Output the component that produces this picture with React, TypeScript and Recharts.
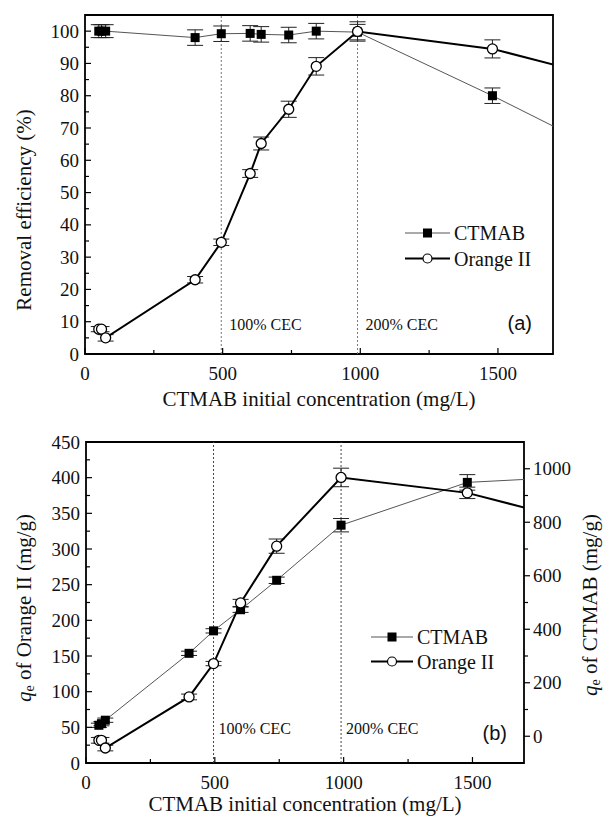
import React from 'react';
import { LineChart, Line, XAxis, YAxis, ReferenceLine, ReferenceArea, ErrorBar, Legend } from 'recharts';

const FONT = "'Liberation Serif', 'DejaVu Serif', 'Times New Roman', serif";
const SANS = "'Liberation Sans', Arial, sans-serif";

// ---------- Panel (a): removal efficiency ----------
const concA = [50, 60, 75, 400, 495, 600, 640, 740, 840, 990, 1480, 1960];
const removalCTMAB = [100, 100, 100, 98.0, 99.2, 99.3, 99.0, 98.8, 100, 99.7, 80.0, 59.5];
const removalCTMABErr = [2, 2, 2, 2.4, 2.4, 2.4, 2.4, 2.4, 2.4, 2.4, 2.4, 0];
const removalOrange = [7.7, 7.7, 5.0, 23.0, 34.6, 55.9, 65.2, 75.8, 89.1, 99.9, 94.5, 84.0];
const removalOrangeErr = [0.8, 0.8, 1, 1, 1, 1.2, 2, 2.5, 2.7, 3, 2.8, 0];

// ---------- Panel (b): adsorption capacity ----------
const concB = [50, 60, 75, 400, 495, 600, 740, 990, 1480, 1960];
const qeCTMAB = [41, 47, 60, 310, 394, 473, 583, 789, 949, 973];
const qeCTMABErr = [8, 8, 8, 8, 8, 10, 12, 25, 29, 0];
const qeOrange = [31.8, 31.8, 21, 92.6, 139.4, 224.4, 304, 400.3, 378.7, 334];
const qeOrangeErr = [4, 4, 4, 4, 3, 5, 10, 13, 8, 0];

// ---------- Axes ----------
const xDomain = [0, 1700];
const xTicks = [0, 250, 500, 750, 1000, 1250, 1500];
const yTicksA = [0, 5, 10, 15, 20, 25, 30, 35, 40, 45, 50, 55, 60, 65, 70, 75, 80, 85, 90, 95, 100];
const yTicksBLeft = [0, 25, 50, 75, 100, 125, 150, 175, 200, 225, 250, 275, 300, 325, 350, 375, 400, 425, 450];
const yTicksBRight = [0, 100, 200, 300, 400, 500, 600, 700, 800, 900, 1000];
const cecValues = [495, 990];
const cecLabels = ['100% CEC', '200% CEC'];
const seriesNames = ['CTMAB', 'Orange II'];

const dataA_CTMAB = concA.map((x, i) => ({ x, y: removalCTMAB[i], err: removalCTMABErr[i] }));
const dataA_Orange = concA.map((x, i) => ({ x, y: removalOrange[i], err: removalOrangeErr[i] }));
const dataB_CTMAB = concB.map((x, i) => ({ x, y: qeCTMAB[i], err: qeCTMABErr[i] }));
const dataB_Orange = concB.map((x, i) => ({ x, y: qeOrange[i], err: qeOrangeErr[i] }));

const serif = { fontFamily: FONT };
const sans = { fontFamily: SANS };
const TICK_FS = 19;
const TITLE_FS = 21;

const XTick = (props: any) => {
  const { x, y, payload } = props;
  const major = payload.value % 500 === 0;
  return (
    <g>
      <line x1={x} x2={x} y1={y} y2={y - (major ? 6 : 4)} stroke="#000" strokeWidth={1.2} />
      {major && (
        <text x={x} y={y + 19} textAnchor="middle" dominantBaseline="central" style={serif} fontSize={TICK_FS} fill="#111">
          {payload.value}
        </text>
      )}
    </g>
  );
};

const makeLeftTick = (step: number) => (props: any) => {
  const { x, y, payload } = props;
  const major = payload.value % step === 0;
  return (
    <g>
      <line x1={x} x2={x + (major ? 6 : 4)} y1={y} y2={y} stroke="#000" strokeWidth={1.2} />
      {major && (
        <text x={x - 6} y={y} textAnchor="end" dominantBaseline="central" style={serif} fontSize={TICK_FS} fill="#111">
          {payload.value}
        </text>
      )}
    </g>
  );
};

const RightTick = (props: any) => {
  const { x, y, payload } = props;
  const major = payload.value % 200 === 0;
  return (
    <g>
      <line x1={x} x2={x + (major ? 6 : 4)} y1={y} y2={y} stroke="#000" strokeWidth={1.2} />
      {major && (
        <text x={x + 9} y={y} textAnchor="start" dominantBaseline="central" style={serif} fontSize={TICK_FS} fill="#111">
          {payload.value}
        </text>
      )}
    </g>
  );
};

const SquareDot = (p: any) =>
  p.cx == null ? null : <rect key={`s${p.index}`} x={p.cx - 4.5} y={p.cy - 4.5} width={9} height={9} fill="#000" />;
const CircleDot = (p: any) =>
  p.cx == null ? null : <circle key={`c${p.index}`} cx={p.cx} cy={p.cy} r={5} fill="#fff" stroke="#000" strokeWidth={1.3} />;

const makeLegend = (rowGap: number, lineW: number) => () => (
  <svg width={190} height={60} style={{ overflow: 'visible' }}>
    {seriesNames.map((name, i) => {
      const cy = 12 + i * rowGap;
      const mid = lineW / 2;
      return (
        <g key={name}>
          <line x1={0} x2={lineW} y1={cy} y2={cy} stroke={i === 0 ? '#555' : '#000'} strokeWidth={i === 0 ? 1 : 2} />
          {i === 0 ? (
            <rect x={mid - 4.5} y={cy - 4.5} width={9} height={9} fill="#000" />
          ) : (
            <circle cx={mid} cy={cy} r={4.5} fill="#fff" stroke="#000" strokeWidth={1.2} />
          )}
          <text x={lineW + 4} y={cy} dominantBaseline="central" style={serif} fontSize={20} fill="#111">
            {name}
          </text>
        </g>
      );
    })}
  </svg>
);

const cecLabel = (text: string, dx: number, dyFromBottom: number) => (props: any) => {
  const vb = props.viewBox || {};
  return (
    <text x={vb.x + dx} y={vb.y + vb.height - dyFromBottom} dominantBaseline="central" style={serif} fontSize={16} fill="#111">
      {text}
    </text>
  );
};

const panelLabel = (text: string, dxRight: number, dyBottom: number) => (props: any) => {
  const vb = props.viewBox || {};
  return (
    <text x={vb.x + vb.width - dxRight} y={vb.y + vb.height - dyBottom} textAnchor="end" dominantBaseline="central" style={sans} fontSize={20} fill="#111">
      {text}
    </text>
  );
};

const makeXTitle = (offset: number) => (props: any) => {
  const vb = props.viewBox || {};
  return (
    <text x={vb.x + vb.width / 2} y={vb.y + offset} textAnchor="middle" dominantBaseline="central" style={serif} fontSize={TITLE_FS} fill="#111">
      CTMAB initial concentration (mg/L)
    </text>
  );
};

const yTitleA = () => (
  <text x={24} y={210} transform="rotate(-90 24 210)" textAnchor="middle" dominantBaseline="central" style={serif} fontSize={TITLE_FS} fill="#111">
    Removal efficiency (%)
  </text>
);

const qeTitle = (cx: number, cy: number, rest: string) => () => (
  <text x={cx} y={cy} transform={`rotate(-90 ${cx} ${cy})`} textAnchor="middle" dominantBaseline="central" style={serif} fontSize={TITLE_FS} fill="#111">
    <tspan fontStyle="italic">q</tspan>
    <tspan fontSize={14} dy={5}>e</tspan>
    <tspan dy={-5}>{rest}</tspan>
  </text>
);

export default function App() {
  return (
    <div style={{ position: 'absolute', left: 0, top: 0, width: 604, height: 819, background: '#fff', fontFamily: FONT }}>
      <div style={{ position: 'absolute', left: 0, top: 0 }}>
        <LineChart width={604} height={420} margin={{ top: 15, right: 51, bottom: 0, left: 40 }}>
          <XAxis
            type="number"
            dataKey="x"
            domain={xDomain}
            allowDataOverflow
            ticks={xTicks}
            interval={0}
            height={66}
            axisLine={false}
            tickLine={false}
            tickSize={0}
            tickMargin={0}
            tick={<XTick />}
            label={makeXTitle(45)}
          />
          <YAxis
            type="number"
            domain={[0, 105]}
            ticks={yTicksA}
            interval={0}
            width={45}
            axisLine={false}
            tickLine={false}
            tickSize={0}
            tickMargin={0}
            tick={makeLeftTick(10)}
            label={yTitleA}
          />
          <ReferenceArea x1={0} x2={1700} y1={0} y2={105} fill="none" stroke="#000" strokeWidth={1.8} label={panelLabel('(a)', 21, 31)} />
          {cecValues.map((v, i) => (
            <ReferenceLine key={v} x={v} stroke="#777" strokeWidth={1} strokeDasharray="2 2" label={cecLabel(cecLabels[i], 8, 30)} />
          ))}
          <Line data={dataA_CTMAB} dataKey="y" stroke="#555" strokeWidth={1} dot={SquareDot} isAnimationActive={false} name="CTMAB">
            <ErrorBar dataKey="err" width={8} stroke="#222" strokeWidth={1} direction="y" />
          </Line>
          <Line data={dataA_Orange} dataKey="y" stroke="#000" strokeWidth={2} dot={CircleDot} isAnimationActive={false} name="Orange II">
            <ErrorBar dataKey="err" width={8} stroke="#222" strokeWidth={1} direction="y" />
          </Line>
          <Legend
            layout="horizontal"
            verticalAlign="middle"
            align="center"
            content={makeLegend(25.5, 45)}
            wrapperStyle={{ left: 405, top: 221, width: 190, height: 60 }}
          />
        </LineChart>
      </div>
      <div style={{ position: 'absolute', left: 0, top: 420 }}>
        <LineChart width={604} height={399} margin={{ top: 22, right: 30, bottom: 0, left: 41 }}>
          <XAxis
            type="number"
            dataKey="x"
            domain={xDomain}
            allowDataOverflow
            ticks={xTicks}
            interval={0}
            height={56}
            axisLine={false}
            tickLine={false}
            tickSize={0}
            tickMargin={0}
            tick={<XTick />}
            label={makeXTitle(41)}
          />
          <YAxis
            yAxisId="left"
            orientation="left"
            type="number"
            domain={[0, 450]}
            ticks={yTicksBLeft}
            interval={0}
            width={45}
            axisLine={false}
            tickLine={false}
            tickSize={0}
            tickMargin={0}
            tick={makeLeftTick(50)}
            label={qeTitle(24, 188, ' of Orange II (mg/g)')}
          />
          <YAxis
            yAxisId="right"
            orientation="right"
            type="number"
            domain={[-100, 1100]}
            ticks={yTicksBRight}
            interval={0}
            width={50}
            axisLine={false}
            tickLine={false}
            tickSize={0}
            tickMargin={0}
            tick={<RightTick />}
            label={qeTitle(590, 185, ' of CTMAB (mg/g)')}
          />
          <ReferenceArea yAxisId="left" x1={0} x2={1700} y1={0} y2={450} fill="none" stroke="#000" strokeWidth={1.8} label={panelLabel('(b)', 17, 30)} />
          {cecValues.map((v, i) => (
            <ReferenceLine key={v} yAxisId="left" x={v} stroke="#444" strokeWidth={1} strokeDasharray="2 2" label={cecLabel(cecLabels[i], 5, 35)} />
          ))}
          <Line yAxisId="right" data={dataB_CTMAB} dataKey="y" stroke="#555" strokeWidth={1} dot={SquareDot} isAnimationActive={false} name="CTMAB">
            <ErrorBar dataKey="err" width={8} stroke="#222" strokeWidth={1} direction="y" />
          </Line>
          <Line yAxisId="left" data={dataB_Orange} dataKey="y" stroke="#000" strokeWidth={2} dot={CircleDot} isAnimationActive={false} name="Orange II">
            <ErrorBar dataKey="err" width={8} stroke="#222" strokeWidth={1} direction="y" />
          </Line>
          <Legend
            layout="horizontal"
            verticalAlign="middle"
            align="center"
            content={makeLegend(24.5, 42)}
            wrapperStyle={{ left: 371, top: 205, width: 190, height: 60 }}
          />
        </LineChart>
      </div>
    </div>
  );
}
